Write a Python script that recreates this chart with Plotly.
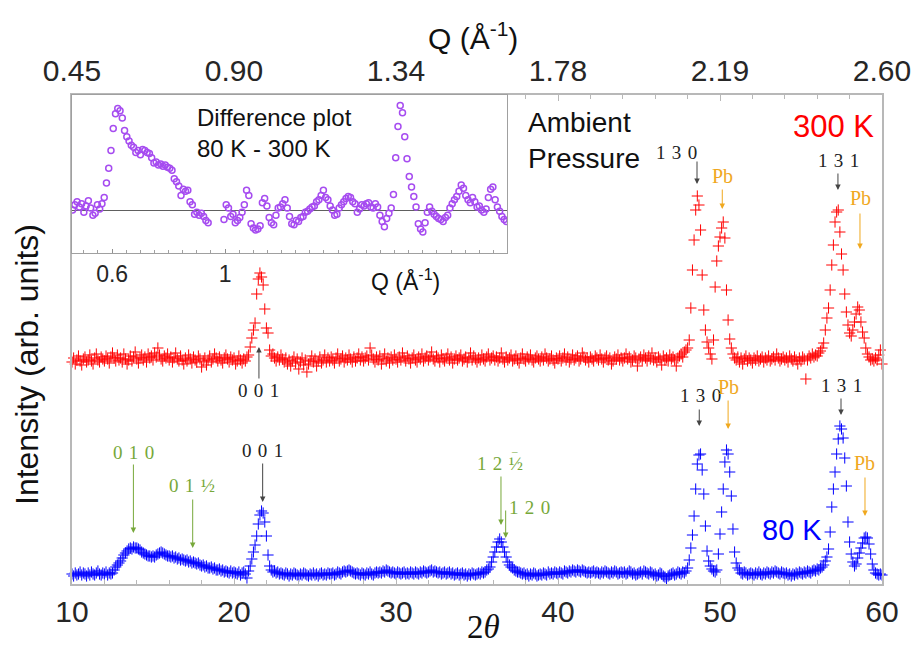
import numpy as np
import plotly.graph_objects as go

# ---------------- data ----------------
two_theta_start = 10.0
two_theta_step = 0.1

# 80 K pattern, one row per degree of 2-theta (10.0 ... 60.0)
blue_80K = [
    10, 8, 11, 9, 10, 12, 9, 11, 10, 8,
    11, 9, 12, 10, 9, 11, 13, 10, 9, 11,
    10, 12, 9, 11, 10, 11, 14, 17, 19, 21,
    23, 26, 29, 31, 33, 35, 36, 35, 37, 36,
    36, 35, 34, 32, 31, 30, 29, 28, 28, 27,
    28, 27, 29, 30, 31, 32, 31, 30, 29, 28,
    28, 27, 28, 26, 27, 25, 26, 24, 25, 24,
    23, 24, 22, 23, 21, 22, 21, 20, 21, 19,
    18, 19, 17, 18, 16, 16, 17, 15, 16, 14,
    14, 15, 13, 14, 12, 13, 12, 11, 13, 11,
    12, 11, 10, 12, 9, 11, 12, 10, 6, 13,
    18, 25, 32, 39, 48, 60, 69, 73, 71, 62,
    48, 29, 18, 14, 12, 13, 11, 12, 10, 11,
    10, 9, 11, 10, 8, 10, 9, 11, 10, 9,
    8, 10, 9, 11, 10, 9, 8, 10, 9, 11,
    9, 10, 8, 10, 11, 9, 10, 9, 11, 10,
    10, 11, 9, 10, 12, 11, 10, 12, 13, 12,
    13, 14, 13, 12, 11, 10, 11, 10, 9, 11,
    10, 9, 11, 10, 12, 10, 9, 11, 12, 11,
    12, 11, 13, 12, 14, 13, 12, 11, 12, 11,
    10, 12, 11, 10, 11, 12, 10, 11, 10, 12,
    11, 10, 12, 11, 10, 12, 11, 13, 12, 11,
    12, 13, 14, 12, 13, 12, 11, 12, 10, 11,
    12, 10, 11, 12, 10, 11, 9, 10, 11, 9,
    10, 11, 9, 10, 8, 10, 9, 11, 10, 9,
    10, 11, 10, 12, 11, 12, 14, 15, 17, 22,
    27, 32, 37, 42, 45, 42, 37, 32, 27, 22,
    19, 17, 16, 14, 13, 12, 12, 11, 10, 11,
    9, 10, 8, 10, 9, 11, 10, 8, 9, 10,
    9, 11, 10, 9, 12, 10, 11, 10, 12, 11,
    10, 12, 11, 10, 13, 12, 11, 13, 12, 14,
    13, 12, 14, 13, 12, 14, 13, 12, 11, 12,
    11, 12, 13, 11, 12, 11, 10, 12, 11, 13,
    12, 11, 10, 12, 11, 13, 12, 10, 11, 12,
    11, 12, 10, 11, 13, 12, 10, 11, 9, 10,
    11, 12, 10, 13, 12, 11, 10, 12, 11, 9,
    10, 8, 9, 11, 10, 8, 7, 5, 8, 9,
    10, 11, 9, 10, 12, 11, 10, 12, 11, 13,
    16, 24, 36, 49, 68, 95, 120, 129, 130, 114,
    90, 58, 33, 23, 18, 15, 13, 12, 14, 30,
    50, 72, 95, 122, 134, 130, 112, 88, 55, 32,
    21, 16, 14, 11, 10, 12, 11, 9, 10, 11,
    10, 9, 11, 10, 12, 10, 9, 11, 10, 12,
    11, 10, 12, 11, 13, 12, 11, 10, 12, 11,
    10, 11, 9, 10, 8, 10, 9, 11, 10, 12,
    11, 10, 12, 11, 13, 12, 11, 13, 14, 13,
    15, 14, 16, 17, 19, 23, 27, 35, 52, 77,
    95, 112, 130, 145, 158, 155, 146, 126, 98, 62,
    42, 30, 22, 18, 20, 26, 31, 36, 41, 46,
    47, 46, 40, 30, 20, 14, 11, 10, 9, 10,
    9,
]

# 300 K pattern (same 2-theta grid), drawn shifted up by red_offset
red_300K = [
    8, 12, 6, 10, 14, 9, 5, 11, 13, 8,
    10, 15, 9, 6, 12, 16, 10, 8, 13, 11,
    9, 14, 11, 7, 13, 17, 12, 9, 15, 10,
    12, 8, 16, 11, 6, 10, 14, 9, 13, 18,
    11, 7, 12, 15, 10, 13, 8, 16, 12, 14,
    10, 17, 13, 22, 15, 11, 9, 14, 12, 16,
    10, 13, 8, 12, 17, 11, 9, 14, 10, 6,
    12, 9, 15, 11, 7, 13, 10, 8, 14, 11,
    3, 9, 12, 5, 10, 14, 8, 11, 16, 12,
    9, 13, 10, 7, 12, 15, 11, 8, 13, 10,
    12, 6, 9, 14, 10, 7, 11, 9, 13, 15,
    23, 32, 40, 47, 76, 91, 97, 93, 85, 61,
    42, 37, 20, 14, 16, 12, 9, 13, 10, 15,
    11, 8, 12, 6, 10, 4, 9, 13, 7, 11,
    1, 8, 12, 5, 10, -2, 6, 9, 14, 8,
    11, 4, 9, 13, 7, 10, 15, 8, 12, 9,
    13, 10, 7, 12, 16, 9, 11, 14, 8, 12,
    10, 15, 11, 8, 13, 9, 12, 16, 10, 13,
    9, 12, 14, 10, 22, 15, 11, 8, 13, 10,
    14, 6, 11, 16, 9, 12, 7, 13, 10, 15,
    11, 8, 13, 10, 17, 12, 9, 14, 11, 7,
    12, 15, 10, 8, 13, 11, 16, 9, 12, 14,
    10, 13, 18, 11, 9, 14, 12, 8, 15, 11,
    9, 12, 16, 10, 13, 7, 11, 14, 10, 12,
    15, 9, 11, 13, 8, 12, 17, 10, 14, 11,
    8, 12, 10, 15, 11, 9, 13, 16, 10, 12,
    14, 10, 13, 9, 12, 17, 11, 8, 13, 10,
    12, 15, 9, 11, 14, 10, 7, 12, 16, 11,
    9, 13, 11, 15, 10, 8, 12, 14, 11, 9,
    13, 10, 16, 12, 9, 11, 14, 10, 7, 12,
    11, 14, 9, 12, 16, 10, 13, 8, 11, 15,
    10, 12, 14, 9, 11, 17, 13, 10, 12, 8,
    13, 11, 9, 14, 12, 10, 15, 11, 8, 12,
    14, 10, 12, 6, 9, 13, 11, 15, 10, 12,
    9, 12, 16, 11, 13, 8, 10, 14, 12, 4,
    11, 13, 10, 15, 12, 9, 14, 11, 17, 10,
    12, 8, 13, 11, 5, 14, 10, 12, 9, 15,
    11, 13, 10, 4, 12, 14, 16, 13, 18, 20,
    22, 30, 62, 100, 130, 160, 174, 165, 140, 95,
    60, 40, 28, 22, 16, 11, 30, 83, 109, 124,
    133, 142, 148, 132, 80, 50, 31, 22, 16, 12,
    10, 13, 8, 12, 6, 11, 14, 9, 12, 10,
    7, 12, 10, 14, 9, 11, 13, 8, 12, 10,
    14, 9, 11, 13, 10, 16, 12, 9, 11, 13,
    10, 12, 8, 14, 11, 9, 13, 10, 6, 12,
    9, 13, 11, -9, 10, 14, 12, 16, 13, 15,
    14, 17, 19, 22, 27, 40, 52, 62, 80, 105,
    125, 148, 158, 160, 138, 116, 100, 76, 58, 45,
    37, 34, 40, 48, 56, 63, 60, 48, 38, 32,
    22, 16, 13, 10, 11, 9, 12, 10, 15, 20,
    6,
]
red_offset = 214

# difference plot (80 K - 300 K) vs Q, Q = 0.460, 0.468, ... (None = no data)
q_start = 0.46
q_step = 0.008
diff_80_300 = [
    0.00, 0.05, 0.08, 0.03, 0.06, -0.02, 0.04, 0.09, 0.02, -0.05,
    -0.03, 0.05, 0.01, 0.06, 0.12, 0.26, 0.40, 0.57, 0.78, 0.92,
    0.97, 0.95, 0.88, 0.76, 0.70, 0.66, 0.62, 0.60, 0.55, 0.57,
    0.53, 0.58, 0.57, 0.55, 0.54, 0.50, 0.45, 0.46, 0.43, 0.44,
    0.42, 0.43, 0.41, 0.40, 0.38, 0.30, 0.27, 0.23, 0.14, 0.20,
    0.18, 0.19, 0.08, 0.05, -0.04, -0.02, -0.05, -0.03, -0.06, -0.10,
    -0.12, None, None, None, None, None, None, -0.09, 0.05, 0.02,
    -0.06, -0.04, -0.12, -0.10, -0.07, -0.02, 0.05, 0.19, 0.14, -0.13,
    -0.17, -0.19, -0.18, -0.15, 0.07, 0.11, 0.04, -0.07, -0.12, -0.14,
    -0.05, 0.02, 0.03, 0.06, 0.10, 0.02, -0.06, -0.13, -0.14, -0.10,
    -0.11, -0.07, -0.06, -0.02, -0.01, 0.01, 0.03, 0.04, 0.08, 0.10,
    0.14, 0.19, 0.12, 0.10, 0.04, 0.00, -0.05, -0.04, 0.02, 0.05,
    0.08, 0.11, 0.13, 0.12, 0.08, 0.06, -0.02, 0.01, 0.05, 0.04,
    0.06, 0.07, 0.03, 0.02, 0.06, 0.03, -0.05, -0.11, -0.16, -0.08,
    -0.03, 0.02, 0.15, 0.50, 0.80, 1.00, 0.93, 0.70, 0.49, 0.32,
    0.22, 0.13, 0.03, -0.13, -0.18, -0.21, -0.12, -0.02, 0.03, -0.01,
    -0.04, -0.06, -0.08, -0.09, -0.11, -0.07, -0.05, 0.02, 0.06, 0.10,
    0.13, 0.18, 0.24, 0.21, 0.14, 0.10, 0.07, 0.12, 0.08, 0.03,
    0.04, 0.00, -0.02, 0.01, 0.12, 0.20, 0.22, 0.10, 0.03, -0.01,
    -0.06, -0.09, -0.11,
]

main_ticks = [10, 20, 30, 40, 50, 60]
q_tick_labels = ["0.45", "0.90", "1.34", "1.78", "2.19", "2.60"]
inset_ticks = [0.6, 1, 2]
inset_tick_labels = ["0.6", "1", "2"]

# ---------------- figure ----------------
tth = np.round(two_theta_start + two_theta_step * np.arange(len(blue_80K)), 2)
red_shifted = [v + red_offset for v in red_300K]
q = np.round(q_start + q_step * np.arange(len(diff_80_300)), 3)

W, H = 912, 645
ML, MR, MT, MB = 72, 30, 95, 61
PW, PH = W - ML - MR, H - MT - MB

def px(xp):
    return (xp - ML) / PW

def py(yp):
    return (H - MB - yp) / PH

SANS = "Liberation Sans, Arial, sans-serif"
SERIF = "Liberation Serif, DejaVu Serif, serif"
AX = "#b8b8b8"
GREEN = "#77a83a"
ORANGE = "#f0a81e"
BLACK = "#222222"
PURPLE = "#a64cf0"
SP = "\u2004"  # three-per-em gap between Miller indices

fig = go.Figure()
fig.add_trace(go.Scatter(
    x=tth, y=red_shifted, mode="markers", name="300 K",
    marker=dict(symbol="cross-thin-open", size=8, color="#ff0000",
                line=dict(width=1, color="#ff0000")),
    showlegend=False, cliponaxis=False))
fig.add_trace(go.Scatter(
    x=tth, y=blue_80K, mode="markers", name="80 K",
    marker=dict(symbol="cross-thin-open", size=8, color="#0000ff",
                line=dict(width=1, color="#0000ff")),
    showlegend=False, cliponaxis=False))
# dummy trace to carry the top Q axis
fig.add_trace(go.Scatter(x=[10, 60], y=[None, None], xaxis="x3", yaxis="y",
                         mode="markers", showlegend=False, hoverinfo="skip"))
# inset
fig.add_trace(go.Scatter(
    x=q, y=diff_80_300, mode="markers", xaxis="x2", yaxis="y2",
    marker=dict(symbol="circle-open", size=6, color=PURPLE,
                line=dict(width=1.5, color=PURPLE)),
    showlegend=False))

inset_dom_x = [0, px(507)]
inset_dom_y = [py(253), 1]

fig.update_layout(
    template="none",
    width=W, height=H, autosize=False,
    margin=dict(l=ML, r=MR, t=MT, b=MB, pad=0),
    paper_bgcolor="white", plot_bgcolor="white",
    font=dict(family=SANS, color="#262626"),
    xaxis=dict(range=[10, 60], domain=[0, 1], anchor="y", automargin=False,
               showline=True, linecolor=AX, linewidth=1.5,
               ticks="inside", ticklen=6, tickcolor=AX, tickwidth=1,
               tickvals=main_ticks, ticktext=[str(t) for t in main_ticks],
               tickfont=dict(size=30, family=SANS, color="#262626"),
               minor=dict(dtick=2, ticks="inside", ticklen=4, tickcolor=AX),
               showgrid=False, zeroline=False),
    xaxis3=dict(range=[10, 60], overlaying="x", side="top", anchor="y",
                automargin=False,
                showline=True, linecolor=AX, linewidth=1.5,
                ticks="inside", ticklen=6, tickcolor=AX,
                tickvals=main_ticks, ticktext=q_tick_labels,
                tickfont=dict(size=30, family=SANS, color="#262626"),
                minor=dict(tickvals=[11, 12, 13, 14, 15, 16, 17, 18, 19, 22, 24, 26, 28,
                                     32, 34, 36, 38, 42, 44, 46, 48, 52, 54, 56, 58],
                           ticks="inside", ticklen=4, tickcolor=AX),
                showgrid=False, zeroline=False),
    yaxis=dict(range=[0, PH], domain=[0, 1], anchor="x", automargin=False,
               showline=True, linecolor=AX, linewidth=1.5, mirror=True,
               showticklabels=False, ticks="", showgrid=False, zeroline=False),
    xaxis2=dict(range=[0.458, 1.998], domain=inset_dom_x, anchor="y2",
                automargin=False,
                showline=True, linecolor="#a0a0a0", linewidth=1.2, mirror=True,
                ticks="inside", ticklen=4, tickcolor="#909090",
                tickvals=inset_ticks, ticktext=inset_tick_labels,
                tickfont=dict(size=23, family=SANS, color="#262626"),
                minor=dict(dtick=0.05, tick0=0.5, ticks="inside", ticklen=3,
                           tickcolor="#a0a0a0"),
                showgrid=False, zeroline=False),
    yaxis2=dict(range=[-0.41, 1.1], domain=inset_dom_y, anchor="x2",
                automargin=False,
                showline=True, linecolor="#a0a0a0", linewidth=1.2, mirror=True,
                showticklabels=False, ticks="", showgrid=False,
                zeroline=True, zerolinecolor="#606060", zerolinewidth=1),
)

ann = []

def paper_text(x, y, text, size, color="#111111", family=SANS, **kw):
    d = dict(xref="paper", yref="paper", x=px(x), y=py(y), text=text,
             showarrow=False, xanchor="center", yanchor="middle",
             font=dict(size=size, family=family, color=color))
    d.update(kw)
    ann.append(d)

# axis titles
paper_text(473, 36, "Q (Å<sup>-1</sup>)", 30)
paper_text(483, 627, "2<i>θ</i>", 33, family=SERIF)
paper_text(27, 365, "Intensity (arb. units)", 32, textangle=-90)
paper_text(405, 280, "Q (Å<sup>-1</sup>)", 23)
# text labels
paper_text(195, 133, "Difference plot<br>80 K - 300 K", 24, xanchor="left", align="left")
paper_text(526, 140, "Ambient<br>Pressure", 28, xanchor="left", align="left")
paper_text(833, 126, "300 K", 31, color="#ff0000")
paper_text(792, 530, "80 K", 29, color="#0000ff")

# peak labels: (text, x, y, color, size)
labels = [
    ("0 0 1", 21.54, 194, BLACK, 19),
    ("0 0 1", 21.77, 134, BLACK, 19),
    ("1 3 0", 48.77, 189, BLACK, 19),
    ("1 3 1", 57.51, 199, BLACK, 19),
    ("1 3 0", 47.33, 432, BLACK, 19),
    ("1 3 1", 57.30, 424, BLACK, 19),
    ("0 1 0", 13.79, 132, GREEN, 19),
    ("0 1 ½", 17.39, 99, GREEN, 19),
    ("1 2 ½", 36.42, 121, GREEN, 19),
    ("1 2 0", 38.27, 77, GREEN, 19),
    ("Pb", 50.51, 197, ORANGE, 20),
    ("Pb", 58.95, 121, ORANGE, 20),
    ("Pb", 50.16, 408, ORANGE, 20),
    ("Pb", 58.68, 386, ORANGE, 20),
]
for t, x, y, c, s in labels:
    ann.append(dict(xref="x", yref="y", x=x, y=y, text=t.replace(" ", SP),
                    showarrow=False, xanchor="center", yanchor="middle",
                    font=dict(size=s, family=SERIF, color=c)))
# overbar of the negative half index in "1 2 -1/2"
ann.append(dict(xref="x", yref="y", x=36.42, y=121, text="_", showarrow=False,
                xanchor="center", yanchor="middle", xshift=14, yshift=16,
                font=dict(size=11, family=SERIF, color=GREEN)))

# arrows: (x, tail_y, head_y, color)
arrows = [
    (21.54, 204, 237, "#444444"),
    (21.77, 122, 82, "#444444"),
    (48.72, 176, 158, "#444444"),
    (57.47, 187, 169, "#444444"),
    (48.58, 424, 400, "#444444"),
    (57.28, 412, 394, "#444444"),
    (13.79, 121, 51, GREEN),
    (17.45, 86, 36, GREEN),
    (36.48, 109, 59, GREEN),
    (36.77, 75, 46, GREEN),
    (50.50, 185, 155, ORANGE),
    (58.95, 108, 68, ORANGE),
    (50.14, 396, 375, ORANGE),
    (58.64, 372, 335, ORANGE),
]
for x, ty, hy, c in arrows:
    ann.append(dict(xref="x", yref="y", x=x, y=hy, ax=x, ay=ty,
                    axref="x", ayref="y", text="", showarrow=True,
                    arrowhead=2, arrowsize=1.1, arrowwidth=1, arrowcolor=c))

fig.update_layout(annotations=ann)
fig.write_html("out.html")
